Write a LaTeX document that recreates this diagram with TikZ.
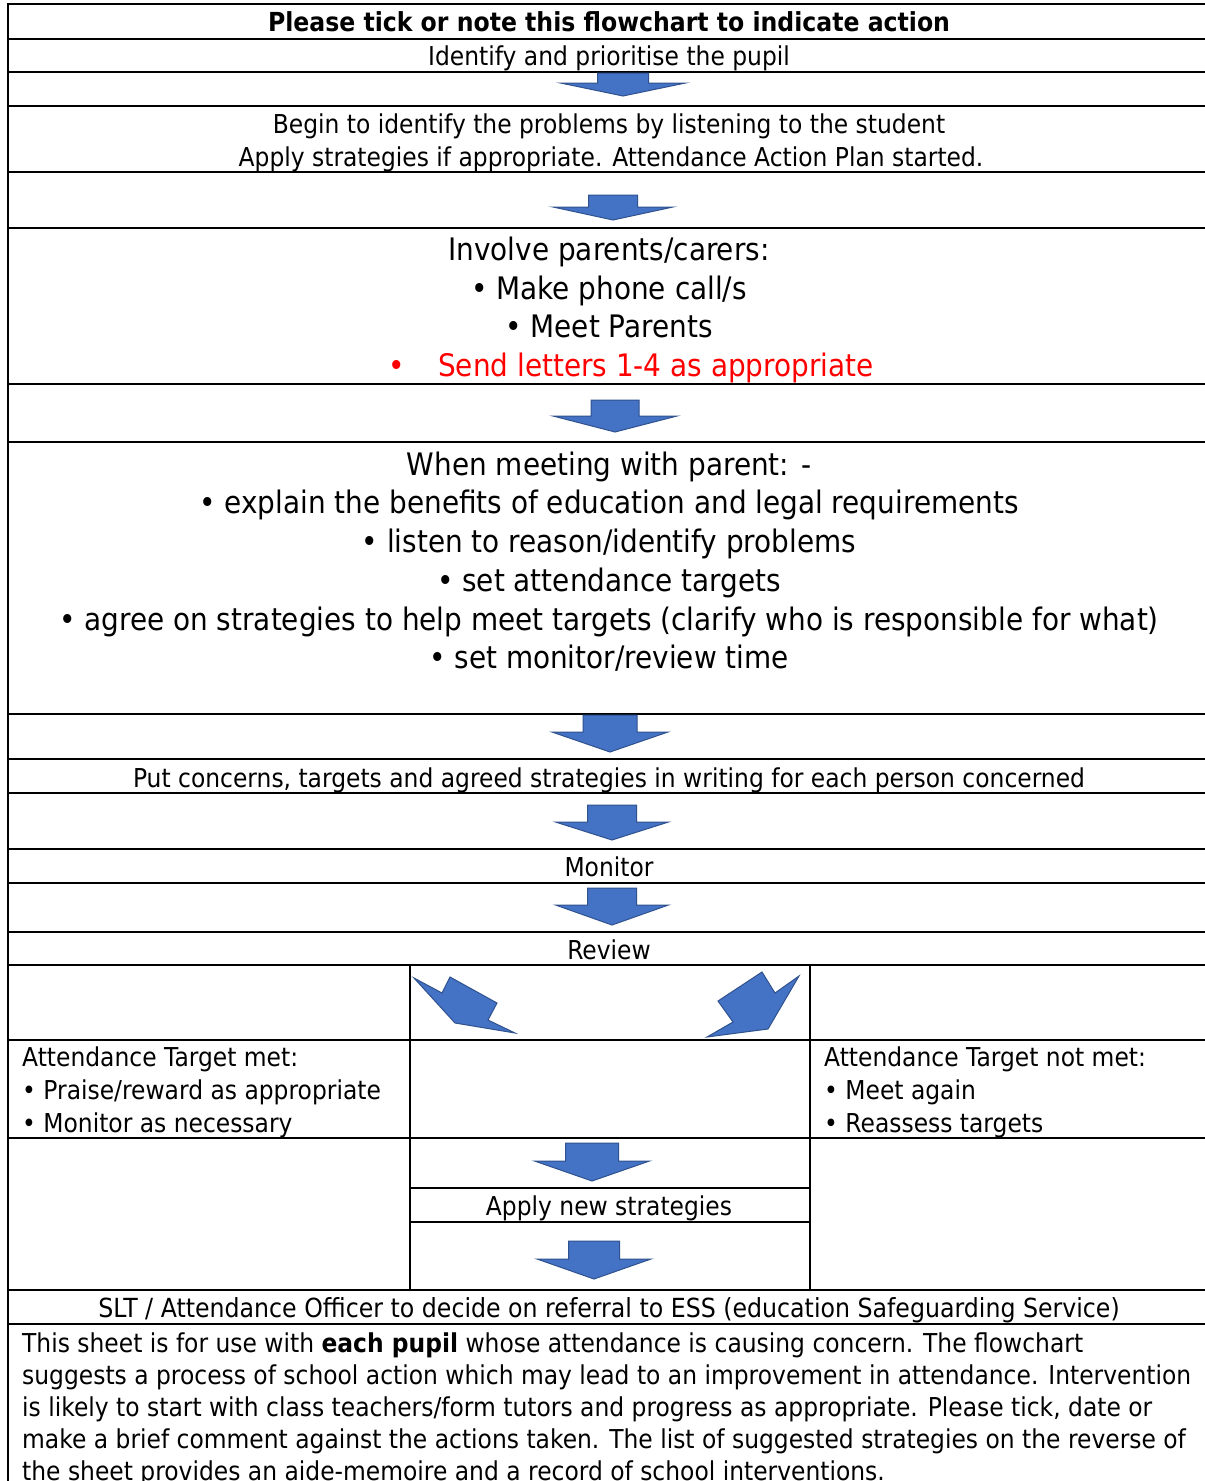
\documentclass[tikz,border=0pt]{standalone}
\usepackage{fontspec}
\setmainfont{DejaVu Sans}[FakeStretch=0.9]
\definecolor{arrfill}{RGB}{68,114,196}
\definecolor{arrline}{RGB}{47,82,143}
\definecolor{alertred}{RGB}{255,0,0}
\newcommand\blockdown[6]{% cx, shaft half width, head half width, top, head base, tip
  \filldraw[barrow] (#1-#2,#4) -- (#1+#2,#4) -- (#1+#2,#5) -- (#1+#3,#5) -- (#1,#6) -- (#1-#3,#5) -- (#1-#2,#5) -- cycle;}
\tikzset{
  rule/.style={line width=2.2pt, line cap=rect},
  barrow/.style={fill=arrfill, draw=arrline, line width=1pt, line join=miter},
  txt/.style={inner sep=0pt, anchor=base, font=\fontsize{26}{32}\selectfont},
  txtl/.style={txt, anchor=base west},
  big/.style={inner sep=0pt, anchor=base, font=\fontsize{31}{38}\selectfont},
  ttl/.style={inner sep=0pt, anchor=base, font=\fontsize{26.2}{30}\selectfont\bfseries},
}
\begin{document}
\begin{tikzpicture}[x=1pt,y=-1pt]
\useasboundingbox (0,0) rectangle (1205,1481);
\fill[white] (0,0) rectangle (1205,1481);
% rules
\foreach \yy in {4,39,72,106,172,228,384,442,714,759,793,849,883,932,965,1040,1138,1290,1324}
  \draw[rule] (8,\yy) -- (1207,\yy);
\foreach \yy in {1188,1222}
  \draw[rule] (410,\yy) -- (810,\yy);
\draw[rule] (8,4) -- (8,1490);
\draw[rule] (410,965) -- (410,1290);
\draw[rule] (810,965) -- (810,1290);
% texts
\node[ttl] (title) at (609,31) {Please tick or note this flowchart to indicate action};
\node[txt] (identify) at (609,65) {Identify and prioritise the pupil};
\node[txt] (begin) at (609,133) {Begin to identify the problems by listening to the student};
\node[txt] (apply) at (611,166) {Apply strategies if appropriate. Attendance Action Plan started.};
\node[big] (involve) at (609,260) {Involve parents/carers:};
\node[big] (phone) at (609,299) {• Make phone call/s};
\node[big] (meetp) at (609,337) {• Meet Parents};
\node[big, text=alertred, anchor=base] (redbul) at (397,376) {•};
\node[big, text=alertred, anchor=base west] (letters) at (438,376) {Send letters 1-4 as appropriate};
\node[big] (when) at (609,475) {When meeting with parent: -};
\node[big] (explain) at (609,513) {• explain the benefits of education and legal requirements};
\node[big] (listen) at (609,552) {• listen to reason/identify problems};
\node[big] (targets) at (609,591) {• set attendance targets};
\node[big] (agree) at (609,630) {• agree on strategies to help meet targets (clarify who is responsible for what)};
\node[big] (review) at (609,668) {• set monitor/review time};
\node[txt] (writing) at (609,787) {Put concerns, targets and agreed strategies in writing for each person concerned};
\node[txt] (monitor) at (609,876) {Monitor};
\node[txt] (reviewt) at (609,959) {Review};
\node[txtl] (met) at (22,1066) {Attendance Target met:};
\node[txtl] (praise) at (22,1099) {• Praise/reward as appropriate};
\node[txtl] (monnec) at (22,1132) {• Monitor as necessary};
\node[txtl] (notmet) at (824,1066) {Attendance Target not met:};
\node[txtl] (again) at (824,1099) {• Meet again};
\node[txtl] (reass) at (824,1132) {• Reassess targets};
\node[txt] (newstr) at (609,1215) {Apply new strategies};
\node[txt, font=\fontsize{26.3}{32}\selectfont] (slt) at (609,1317) {SLT / Attendance Officer to decide on referral to ESS (education Safeguarding Service)};
\node[txtl] (p1) at (22,1352) {This sheet is for use with \textbf{each pupil} whose attendance is causing concern. The flowchart};
\node[txtl] (p2) at (22,1384) {suggests a process of school action which may lead to an improvement in attendance. Intervention};
\node[txtl] (p3) at (22,1416) {is likely to start with class teachers/form tutors and progress as appropriate. Please tick, date or};
\node[txtl] (p4) at (22,1448) {make a brief comment against the actions taken. The list of suggested strategies on the reverse of};
\node[txtl] (p5) at (22,1480) {the sheet provides an aide-memoire and a record of school interventions.};
% arrows
\blockdown{623}{25.5}{62.5}{73}{83}{96}
\blockdown{613}{24.5}{60}{195}{207}{220}
\blockdown{615}{24}{62}{400}{416}{432}
\blockdown{610}{27}{58}{715}{732}{752}
\blockdown{612}{24.5}{56.5}{805}{822}{840}
\blockdown{612}{24.5}{56.5}{888}{905}{925}
\blockdown{592}{26.5}{57.5}{1143}{1161}{1181}
\blockdown{594}{25.5}{57}{1241}{1259}{1279}
\filldraw[barrow] (414,978) -- (442,993) -- (450,977) -- (497,1003) -- (488,1020) -- (515,1033) -- (455,1023) -- cycle;
\filldraw[barrow] (707,1037) -- (733,1022) -- (718,1001) -- (762,972) -- (775,993) -- (799,976) -- (768,1029) -- cycle;
\end{tikzpicture}
\end{document}
